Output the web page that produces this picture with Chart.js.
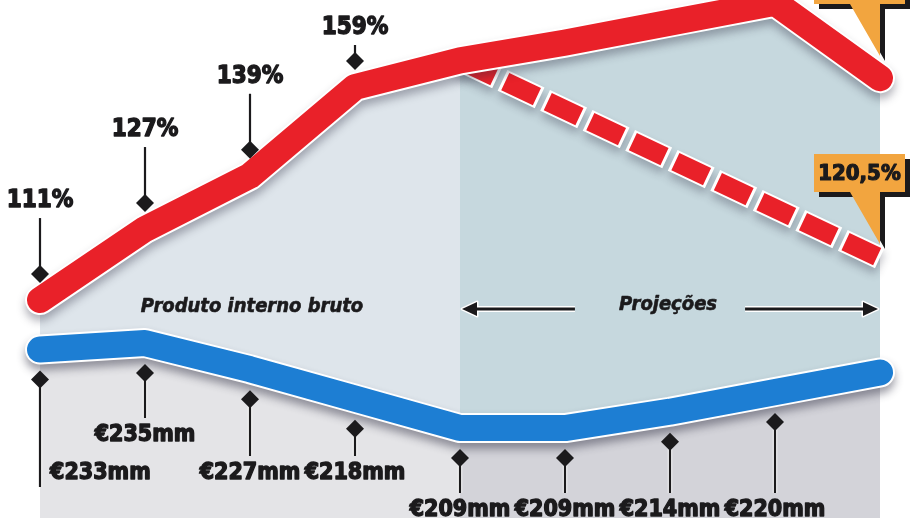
<!DOCTYPE html>
<html>
<head>
<meta charset="utf-8">
<script src="https://cdn.jsdelivr.net/npm/chart.js@4.4.1/dist/chart.umd.min.js"></script>
<style>
  html, body { margin: 0; padding: 0; background: #fff; }
  #wrap { width: 920px; height: 518px; }
</style>
</head>
<body>
<div id="wrap"><canvas id="chart" width="920" height="518"></canvas></div>
<script>
// ---- data (years are not printed on the graphic) ----
const years = ['2008', '2009', '2010', '2011', '2012', '2013', '2014', '2015', '2016'];
const projectionStart = 4; // first projected category

// public debt, % of GDP
const debt = [111, 127, 139, 159, 165, 169, 173.5, 178, 161];
const debtLabels = ['111%', '127%', '139%', '159%', null, null, null, null, null];

// alternative path (only the two ends are known)
const debtAlt = [null, null, null, null, 165, null, null, null, 120.5];
const debtAltLabel = '120,5%';

// GDP, € bn
const gdp = [233, 235, 227, 218, 209, 209, 214, 220, 226];
const gdpLabels = ['€233mm', '€235mm', '€227mm', '€218mm', '€209mm', '€209mm', '€214mm', '€220mm', null];

// ---- styles ----
const RED = '#e92129';
const BLUE = '#1d7ed3';
const INK = '#1b1a1c';
const ORANGE = '#f2a53f';
const NUM_FONT = 'bold 24px "DejaVu Sans Condensed", "DejaVu Sans", sans-serif';
const GDP_FONT = 'bold 23px "DejaVu Sans Condensed", "DejaVu Sans", sans-serif';
const TAG_FONT = 'italic bold 20px "DejaVu Sans Condensed", "DejaVu Sans", sans-serif';
const debtLeader = [73, 73, 73, 33];       // diamond -> label distance
const gdpRow = [1, 0, 1, 1, 2, 2, 2, 2];   // label row per point
const gdpRowY = [435, 473, 510];

function splitFill(leftColor, rightColor) {
  return (c) => {
    const chart = c.chart;
    const area = chart.chartArea;
    if (!area || !chart.scales.x) return leftColor;
    const px = chart.scales.x.getPixelForValue(projectionStart);
    const t = (px - area.left) / (area.right - area.left);
    const g = chart.ctx.createLinearGradient(area.left, 0, area.right, 0);
    g.addColorStop(0, leftColor);
    g.addColorStop(t, leftColor);
    g.addColorStop(t, rightColor);
    g.addColorStop(1, rightColor);
    return g;
  };
}

function heavyText(ctx, t, x, y, w) {
  ctx.fillStyle = INK;
  ctx.strokeStyle = INK;
  ctx.lineWidth = w;
  ctx.lineJoin = 'round';
  ctx.strokeText(t, x, y);
  ctx.fillText(t, x, y);
}

function diamond(ctx, x, y, r) {
  ctx.beginPath();
  ctx.moveTo(x, y - r);
  ctx.lineTo(x + r, y);
  ctx.lineTo(x, y + r);
  ctx.lineTo(x - r, y);
  ctx.closePath();
  ctx.fillStyle = INK;
  ctx.fill();
}

function leader(ctx, x, y1, y2) {
  ctx.beginPath();
  ctx.moveTo(x, y1);
  ctx.lineTo(x, y2);
  ctx.strokeStyle = 'rgba(255,255,255,0.8)';
  ctx.lineWidth = 4.5;
  ctx.stroke();
  ctx.strokeStyle = INK;
  ctx.lineWidth = 2.2;
  ctx.stroke();
}

function arrow(ctx, tail, tip, y) {
  const dir = Math.sign(tip - tail);
  const base = tip - dir * 15;
  ctx.lineJoin = 'round';
  ctx.beginPath();
  ctx.moveTo(tail, y);
  ctx.lineTo(base, y);
  ctx.strokeStyle = '#fff';
  ctx.lineWidth = 6;
  ctx.stroke();
  ctx.beginPath();
  ctx.moveTo(tip, y);
  ctx.lineTo(base, y - 7);
  ctx.lineTo(base, y + 7);
  ctx.closePath();
  ctx.lineWidth = 3;
  ctx.stroke();
  ctx.fillStyle = INK;
  ctx.fill();
  ctx.beginPath();
  ctx.moveTo(tail, y);
  ctx.lineTo(base, y);
  ctx.strokeStyle = INK;
  ctx.lineWidth = 3;
  ctx.stroke();
}

function callout(ctx, px, tipY, text) {
  const bottom = tipY - 52, top = bottom - 38, left = px - 66, right = px + 25;
  const path = (o) => {
    ctx.beginPath();
    ctx.moveTo(left + o, top + o);
    ctx.lineTo(right + o, top + o);
    ctx.lineTo(right + o, bottom + o);
    ctx.lineTo(px + o, bottom + o);
    ctx.lineTo(px + o, tipY + o);
    ctx.lineTo(px - 30 + o, bottom + o);
    ctx.lineTo(left + o, bottom + o);
    ctx.closePath();
  };
  ctx.fillStyle = INK;
  path(5);
  ctx.fill();
  ctx.fillStyle = ORANGE;
  path(0);
  ctx.fill();
  if (text) {
    ctx.font = 'bold 22px "DejaVu Sans Condensed", "DejaVu Sans", sans-serif';
    ctx.textAlign = 'center';
    ctx.textBaseline = 'middle';
    heavyText(ctx, text, (left + right) / 2, (top + bottom) / 2 + 1, 1.2);
  }
}

const annotate = {
  id: 'annotate',
  beforeDatasetDraw(chart, args) {
    const ds = chart.data.datasets[args.index];
    if (!ds.shadow) return;
    const ctx = chart.ctx;
    ctx.save();
    ctx.shadowColor = ds.shadow;
    ctx.shadowBlur = 9;
    ctx.shadowOffsetY = 6;
  },
  afterDatasetDraw(chart, args) {
    if (chart.data.datasets[args.index].shadow) chart.ctx.restore();
  },
  afterDatasetsDraw(chart) {
    const ctx = chart.ctx;
    const xs = chart.scales.x, yd = chart.scales.yDebt, yg = chart.scales.yGdp;
    const area = chart.chartArea;
    const pStart = xs.getPixelForValue(projectionStart);
    ctx.save();

    // region tags
    ctx.font = TAG_FONT;
    ctx.textAlign = 'center';
    ctx.textBaseline = 'middle';
    const tagY = 307;
    heavyText(ctx, 'Produto interno bruto', (area.left + pStart) / 2 + 2, tagY, 0.6);
    const pc = (pStart + area.right) / 2 - 2;
    heavyText(ctx, 'Projeções', pc, tagY - 2, 0.6);
    const half = ctx.measureText('Projeções').width / 2;
    arrow(ctx, pc - half - 44, pStart + 2, tagY + 2);
    arrow(ctx, pc + half + 28, area.right - 2, tagY + 2);

    // debt markers
    debtLabels.forEach((t, i) => {
      if (!t) return;
      const x = xs.getPixelForValue(i);
      const dy = yd.getPixelForValue(debt[i]) - 26;
      const ly = dy - debtLeader[i];
      leader(ctx, x, dy, ly + 17);
      diamond(ctx, x, dy, 9);
      ctx.font = NUM_FONT;
      ctx.textAlign = 'center';
      ctx.textBaseline = 'middle';
      heavyText(ctx, t, x, ly, 1.3);
    });

    // GDP markers
    gdpLabels.forEach((t, i) => {
      if (!t) return;
      const x = xs.getPixelForValue(i);
      const dy = yg.getPixelForValue(gdp[i]) + 30;
      const ly = gdpRowY[gdpRow[i]];
      ctx.font = GDP_FONT;
      ctx.textBaseline = 'middle';
      if (i === 0) {
        leader(ctx, x, dy, ly + 14);
        ctx.textAlign = 'left';
        heavyText(ctx, t, x + 10, ly, 1.3);
      } else {
        leader(ctx, x, dy, ly - 17);
        ctx.textAlign = 'center';
        heavyText(ctx, t, x, ly, 1.3);
      }
      diamond(ctx, x, dy, 9);
    });

    // end callouts
    const last = debt.length - 1;
    const ex = xs.getPixelForValue(last);
    callout(ctx, ex, yd.getPixelForValue(debt[last]) - 22, null);
    callout(ctx, ex, yd.getPixelForValue(debtAlt[last]) - 14, debtAltLabel);
    ctx.restore();
  }
};

const lineBase = { borderJoinStyle: 'round', borderCapStyle: 'round', pointRadius: 0, tension: 0, clip: false };

new Chart(document.getElementById('chart'), {
  type: 'line',
  data: {
    labels: years,
    datasets: [
      Object.assign({}, lineBase, { label: 'PIB', data: gdp, yAxisID: 'yGdp',
        borderColor: BLUE, borderWidth: 26, fill: 'start',
        backgroundColor: splitFill('#e4e4e7', '#d3d3d9'), order: 0 }),
      Object.assign({}, lineBase, { label: 'PIB contorno', data: gdp, yAxisID: 'yGdp',
        borderColor: '#ffffff', borderWidth: 30, fill: false, order: 1,
        shadow: 'rgba(40,40,60,0.45)' }),
      Object.assign({}, lineBase, { label: 'Dívida', data: debt, yAxisID: 'yDebt',
        borderColor: RED, borderWidth: 26, fill: 'start',
        backgroundColor: splitFill('#dee5eb', '#c6d8de'), order: 2 }),
      Object.assign({}, lineBase, { label: 'Dívida contorno', data: debt, yAxisID: 'yDebt',
        borderColor: '#ffffff', borderWidth: 30, fill: false, order: 3,
        shadow: 'rgba(40,40,60,0.35)' }),
      Object.assign({}, lineBase, { label: 'Cenário alternativo', data: debtAlt, yAxisID: 'yDebt',
        spanGaps: true, borderColor: RED, borderWidth: 19, borderCapStyle: 'butt',
        borderDash: [35, 12], borderDashOffset: -3, fill: false, order: 4 }),
      Object.assign({}, lineBase, { label: 'Cenário contorno', data: debtAlt, yAxisID: 'yDebt',
        spanGaps: true, borderColor: '#ffffff', borderWidth: 23, borderCapStyle: 'butt',
        borderDash: [41, 6], borderDashOffset: 0, fill: false, order: 5,
        shadow: 'rgba(40,40,60,0.3)' })
    ]
  },
  options: {
    responsive: false,
    animation: false,
    events: [],
    layout: { padding: { left: 40, right: 40, top: 0, bottom: 0 } },
    scales: {
      x: { type: 'category', display: false, offset: false },
      yDebt: { type: 'linear', display: false, min: 61.9, max: 178.6 },
      yGdp: { type: 'linear', display: false, min: 181.5, max: 339.9 }
    },
    plugins: {
      legend: { display: false },
      tooltip: { enabled: false },
      filler: { drawTime: 'beforeDatasetsDraw' }
    }
  },
  plugins: [annotate]
});
</script>
</body>
</html>
